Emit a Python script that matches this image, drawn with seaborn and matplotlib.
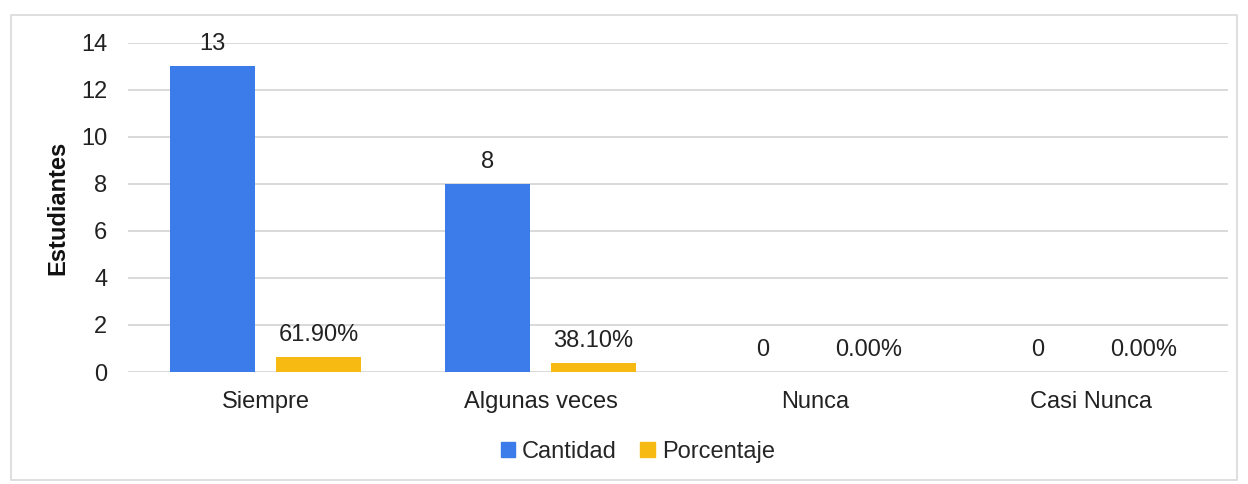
import matplotlib
matplotlib.use("Agg")
import matplotlib.pyplot as plt
import seaborn as sns
import pandas as pd
from matplotlib.patches import Rectangle

categorias = ["Siempre", "Algunas veces", "Nunca", "Casi Nunca"]
cantidad = [13, 8, 0, 0]
porcentaje = [0.619, 0.381, 0.0, 0.0]
etiquetas_pct = ["61.90%", "38.10%", "0.00%", "0.00%"]
series = ["Cantidad", "Porcentaje"]
yticks = [0, 2, 4, 6, 8, 10, 12, 14]

df = pd.DataFrame({
    "cat": categorias * 2,
    "serie": [series[0]] * 4 + [series[1]] * 4,
    "valor": cantidad + porcentaje,
})

sns.set_theme(style="white")
plt.rcParams["font.family"] = ["Liberation Sans", "DejaVu Sans"]

FS = 17
fig = plt.figure(figsize=(12.48, 4.84), dpi=100)
ax = fig.add_axes([0.1026, 0.2314, 0.8814, 0.6798])

colors = {"Cantidad": "#3C7BEA", "Porcentaje": "#F7BA12"}
sns.barplot(data=df, x="cat", y="valor", hue="serie", order=categorias,
            hue_order=series, palette=colors, width=0.77, gap=0.2,
            ax=ax, legend=False, saturation=1, linewidth=0)

ax.set_ylim(0, 14)
ax.set_xlim(-0.5, 3.5)
ax.set_yticks(yticks)
ax.set_yticklabels([str(t) for t in yticks], fontsize=FS, color="#222222")
ax.tick_params(axis="y", length=0, pad=15)
ax.tick_params(axis="x", length=0, pad=14, labelsize=FS, labelcolor="#222222")
ax.set_xlabel("")
ax.set_ylabel("Estudiantes", fontsize=FS, fontweight="bold", labelpad=8, color="#111111")
ax.grid(axis="y", color="#D3D3D3", linewidth=1.2)
ax.set_axisbelow(True)
for s in ax.spines.values():
    s.set_visible(False)

conts = ax.containers
ax.bar_label(conts[0], labels=[str(v) for v in cantidad], padding=8, fontsize=FS, color="#222222")
ax.bar_label(conts[1], labels=etiquetas_pct, padding=8, fontsize=FS, color="#222222")

handles = [Rectangle((0, 0), 1, 1, color=colors[s]) for s in series]
fig.legend(handles, series, loc="center", bbox_to_anchor=(0.511, 0.066), ncol=2,
           frameon=False, fontsize=FS, handlelength=0.6, handleheight=0.6,
           handletextpad=0.3, columnspacing=1.0)

fig.patches.append(Rectangle((0.009, 0.008), 0.982, 0.962, transform=fig.transFigure,
                             fill=False, edgecolor="#D9D9D9", linewidth=1.2))

fig.savefig("out.png", dpi=100, facecolor="white")
